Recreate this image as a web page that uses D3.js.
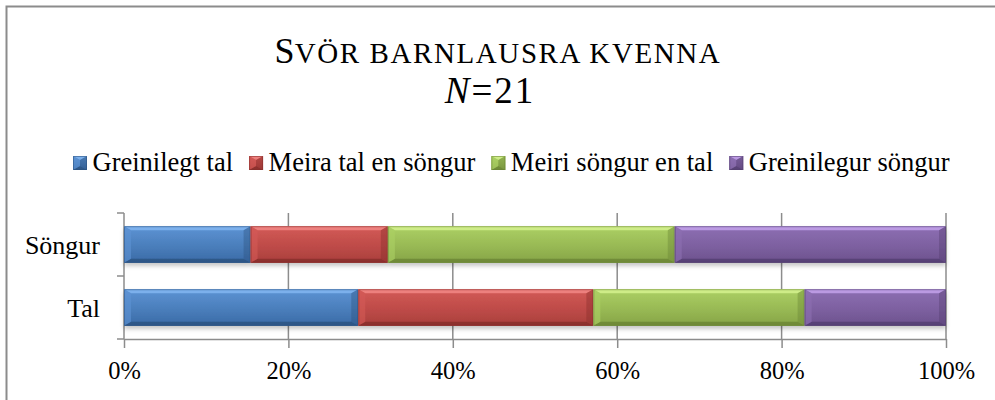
<!DOCTYPE html>
<html>
<head>
<meta charset="utf-8">
<script src="https://cdn.jsdelivr.net/npm/d3@7"></script>
<style>
  body { margin: 0; background: #fff; }
  svg { display: block; font-family: "Liberation Serif", "Times New Roman", serif; }
</style>
</head>
<body>
<div id="chart"></div>
<script>
// data
const categories = ["Söngur", "Tal"];
const seriesNames = ["Greinilegt tal", "Meira tal en söngur", "Meiri söngur en tal", "Greinilegur söngur"];
const songurValues = [15.4, 16.7, 34.9, 33.0];
const talValues = [28.5, 28.6, 25.7, 17.2];
const tickValues = [0, 20, 40, 60, 80, 100];

// colours: base, light edge, dark edge
const palette = [
  { base: "#4a7ebb", top: "#5d93d4", bottom: "#3a6aa6", light: "#7fb4ee", dark: "#2c5280" },
  { base: "#be4b48", top: "#d35a57", bottom: "#a93f3c", light: "#f08583", dark: "#862d2b" },
  { base: "#98b954", top: "#acd064", bottom: "#86a447", light: "#d2ef8c", dark: "#6a8535" },
  { base: "#7d60a0", top: "#8d6fb3", bottom: "#6c528d", light: "#c09ee8", dark: "#543f70" }
];

const width = 995, height = 400;
const margin = { left: 124, right: 49, top: 213, bottom: 61 };

const svg = d3.select("#chart").append("svg")
  .attr("width", width)
  .attr("height", height);

const defs = svg.append("defs");
palette.forEach((p, i) => {
  const g = defs.append("linearGradient")
    .attr("id", "grad" + i)
    .attr("x1", 0).attr("y1", 0).attr("x2", 0).attr("y2", 1);
  g.append("stop").attr("offset", "0%").attr("stop-color", p.top);
  g.append("stop").attr("offset", "55%").attr("stop-color", p.base);
  g.append("stop").attr("offset", "100%").attr("stop-color", p.bottom);
});
const shadow = defs.append("filter").attr("id", "shadow")
  .attr("x", "-5%").attr("y", "-20%").attr("width", "110%").attr("height", "160%");
shadow.append("feDropShadow")
  .attr("dx", 0).attr("dy", 3).attr("stdDeviation", 2)
  .attr("flood-color", "#000").attr("flood-opacity", 0.22);

// outer frame
svg.append("path")
  .attr("d", "M6.5," + height + "V6.5H" + width)
  .attr("fill", "none")
  .attr("stroke", "#8c8c8c")
  .attr("stroke-width", 2);

// title
const title = svg.append("text")
  .attr("x", 498)
  .attr("y", 63)
  .attr("text-anchor", "middle")
  .attr("fill", "#000");
title.append("tspan").attr("font-size", 36).text("S");
title.append("tspan").attr("font-size", 29).attr("letter-spacing", 1.6).text("VÖR BARNLAUSRA KVENNA");

const sub = svg.append("text")
  .attr("x", 490)
  .attr("y", 103)
  .attr("text-anchor", "middle")
  .attr("font-size", 37)
  .attr("letter-spacing", 2)
  .attr("fill", "#000");
sub.append("tspan").attr("font-style", "italic").text("N");
sub.append("tspan").text("=21");

// scales
const x = d3.scaleLinear()
  .domain([0, 100])
  .range([margin.left, width - margin.right]);

const y = d3.scaleBand()
  .domain(categories)
  .range([margin.top, height - margin.bottom])
  .paddingInner(0.42)
  .paddingOuter(0.21);

// gridlines
svg.append("g")
  .selectAll("line")
  .data(tickValues.slice(1))
  .enter()
  .append("line")
  .attr("x1", d => x(d)).attr("x2", d => x(d))
  .attr("y1", margin.top).attr("y2", height - margin.bottom)
  .attr("stroke", "#8c8c8c")
  .attr("stroke-width", 1.5);

// bottom axis
const xAxis = svg.append("g")
  .attr("transform", "translate(0," + (height - margin.bottom) + ")")
  .call(d3.axisBottom(x).tickValues(tickValues).tickFormat(d => d + "%").tickSize(9).tickSizeOuter(0));
xAxis.select(".domain").attr("stroke", "#8c8c8c").attr("stroke-width", 1.5);
xAxis.selectAll(".tick line").attr("stroke", "#8c8c8c").attr("stroke-width", 1.5);
xAxis.selectAll(".tick text")
  .attr("font-family", "Liberation Serif, Times New Roman, serif")
  .attr("font-size", 24.5)
  .attr("fill", "#000")
  .attr("y", 40)
  .attr("dy", 0);

// left axis: boundary ticks between categories
const boundaries = [margin.top, margin.top + y.step(), height - margin.bottom];
const yAxis = svg.append("g");
yAxis.append("line")
  .attr("x1", margin.left).attr("x2", margin.left)
  .attr("y1", margin.top).attr("y2", height - margin.bottom)
  .attr("stroke", "#8c8c8c").attr("stroke-width", 1.5);
yAxis.selectAll("line.tk")
  .data(boundaries)
  .enter()
  .append("line")
  .attr("class", "tk")
  .attr("x1", margin.left - 7).attr("x2", margin.left)
  .attr("y1", d => d).attr("y2", d => d)
  .attr("stroke", "#8c8c8c").attr("stroke-width", 1.5);
yAxis.selectAll("text")
  .data(categories)
  .enter()
  .append("text")
  .attr("x", 100)
  .attr("y", d => y(d) + y.bandwidth() / 2 + 9.5)
  .attr("text-anchor", "end")
  .attr("font-size", 26)
  .attr("fill", "#000")
  .text(d => d);

// bevelled segment
function bevelBlock(g, x0, y0, w, h, p, grad) {
  const bx = Math.min(7, w / 2), by = Math.min(4, h / 2);
  const x1 = x0 + w, y1 = y0 + h;
  g.append("rect").attr("x", x0).attr("y", y0).attr("width", w).attr("height", h).attr("fill", "url(#" + grad + ")");
  const poly = (pts, fill, op) => g.append("polygon")
    .attr("points", pts.map(q => q.join(",")).join(" "))
    .attr("fill", fill).attr("opacity", op);
  poly([[x0, y0], [x1, y0], [x1 - bx, y0 + by], [x0 + bx, y0 + by]], p.light, 0.9);
  poly([[x0, y1], [x1, y1], [x1 - bx, y1 - by], [x0 + bx, y1 - by]], p.dark, 0.8);
  poly([[x0, y0], [x0 + bx, y0 + by], [x0 + bx, y1 - by], [x0, y1]], p.top, 0.6);
  poly([[x1, y0], [x1 - bx, y0 + by], [x1 - bx, y1 - by], [x1, y1]], p.dark, 0.4);
  g.append("rect").attr("x", x0 + 0.5).attr("y", y0 + 0.5).attr("width", w - 1).attr("height", h - 1)
    .attr("fill", "none").attr("stroke", p.dark).attr("stroke-width", 1).attr("opacity", 0.55);
}

// stacked bars
const rows = [
  { cat: "Söngur", values: songurValues },
  { cat: "Tal", values: talValues }
];
const bars = svg.append("g").attr("filter", "url(#shadow)");
rows.forEach(row => {
  let acc = 0;
  row.values.forEach((v, i) => {
    const x0 = x(acc), x1 = x(acc + v);
    acc += v;
    bevelBlock(bars.append("g"), x0, y(row.cat), x1 - x0, y.bandwidth(), palette[i], "grad" + i);
  });
});

// legend
const legend = svg.append("g").attr("transform", "translate(73,0)");
let lx = 0;
seriesNames.forEach((name, i) => {
  const item = legend.append("g").attr("transform", "translate(" + lx + ",0)");
  bevelBlock(item, 0, 156, 14, 14, palette[i], "grad" + i);
  const t = item.append("text")
    .attr("x", 19.5)
    .attr("y", 170.5)
    .attr("font-size", 26.5)
    .attr("fill", "#000")
    .text(name);
  lx += 19.5 + t.node().getComputedTextLength() + 16;
});
</script>
</body>
</html>
